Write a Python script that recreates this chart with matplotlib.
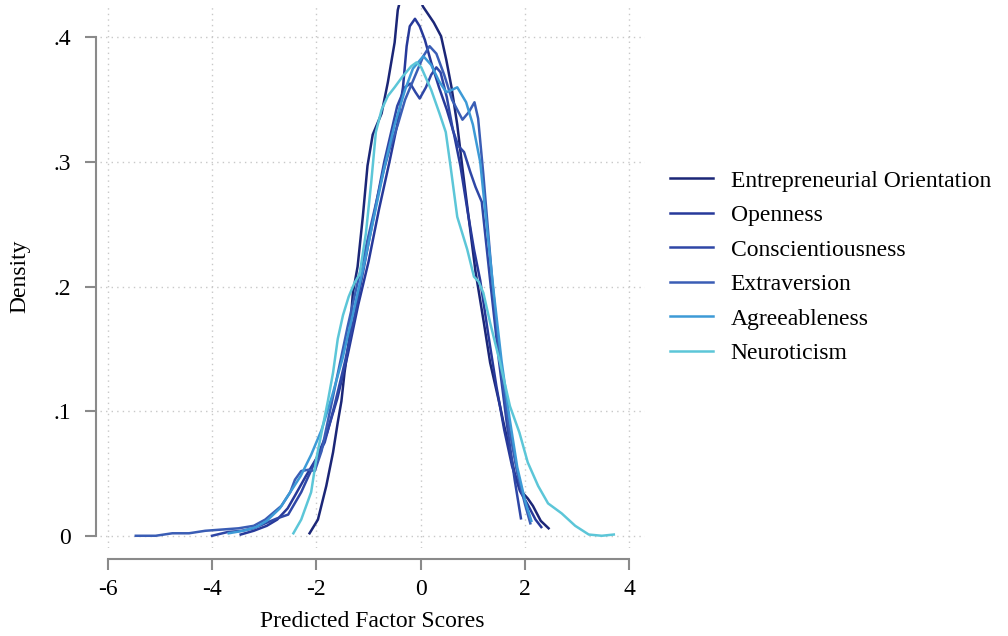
import matplotlib.pyplot as plt

# kernel density curves: (score, density)
eo_x = [-2.13, -1.97, -1.81, -1.68, -1.59, -1.52, -1.46, -1.37, -1.30, -1.21, -1.11, -1.02, -0.92, -0.75,
        -0.63, -0.50, -0.44, -0.30, -0.15, 0.04, 0.25, 0.39, 0.49, 0.59, 0.70, 0.80, 0.92, 1.05, 1.21,
        1.33, 1.52, 1.59, 1.70, 1.80, 1.92, 2.05, 2.15, 2.30, 2.45]
eo_y = [0.002, 0.013, 0.040, 0.067, 0.091, 0.108, 0.131, 0.158, 0.195, 0.216, 0.256, 0.297, 0.322, 0.339,
        0.364, 0.396, 0.422, 0.445, 0.450, 0.425, 0.412, 0.401, 0.382, 0.360, 0.330, 0.295, 0.255, 0.212,
        0.171, 0.139, 0.104, 0.090, 0.070, 0.050, 0.036, 0.030, 0.024, 0.012, 0.006]

open_x = [-3.45, -3.2, -2.95, -2.75, -2.55, -2.4, -2.2, -2.0, -1.8, -1.6, -1.4, -1.2, -1.0, -0.8, -0.6,
          -0.45, -0.34, -0.27, -0.21, -0.11, -0.02, 0.08, 0.20, 0.35, 0.50, 0.63, 0.76, 0.90, 1.02, 1.14,
          1.30, 1.45, 1.60, 1.75, 1.90, 2.05, 2.20, 2.31]
open_y = [0.001, 0.004, 0.008, 0.013, 0.022, 0.033, 0.048, 0.062, 0.082, 0.110, 0.145, 0.185, 0.220, 0.262,
          0.300, 0.330, 0.360, 0.393, 0.409, 0.415, 0.409, 0.398, 0.380, 0.360, 0.342, 0.324, 0.297, 0.260,
          0.230, 0.205, 0.160, 0.120, 0.085, 0.056, 0.036, 0.025, 0.013, 0.007]

consc_x = [-4.0, -3.7, -3.43, -3.2, -2.98, -2.75, -2.54, -2.29, -2.03, -1.84, -1.65, -1.45, -1.25, -1.0,
           -0.7, -0.45, -0.30, -0.20, -0.10, -0.02, 0.10, 0.20, 0.30, 0.38, 0.50, 0.62, 0.72, 0.83, 0.95,
           1.05, 1.17, 1.33, 1.50, 1.65, 1.80, 1.92]
consc_y = [0.0, 0.003, 0.004, 0.006, 0.010, 0.014, 0.017, 0.035, 0.059, 0.075, 0.105, 0.140, 0.180, 0.235,
           0.300, 0.345, 0.360, 0.363, 0.356, 0.351, 0.360, 0.370, 0.376, 0.372, 0.352, 0.325, 0.313, 0.308,
           0.292, 0.280, 0.268, 0.205, 0.140, 0.090, 0.045, 0.014]

extra_x = [-5.46, -5.08, -4.76, -4.44, -4.13, -3.81, -3.49, -3.20, -2.98, -2.67, -2.50, -2.41, -2.29,
           -2.15, -2.03, -1.90, -1.75, -1.60, -1.40, -1.20, -0.95, -0.73, -0.60, -0.44, -0.30, -0.10,
           0.05, 0.17, 0.30, 0.45, 0.60, 0.80, 0.92, 1.03, 1.10, 1.20, 1.30, 1.37, 1.45, 1.55, 1.70,
           1.85, 2.00, 2.10]
extra_y = [0.0, 0.0, 0.002, 0.002, 0.004, 0.005, 0.006, 0.008, 0.013, 0.024, 0.035, 0.045, 0.052,
           0.053, 0.052, 0.068, 0.098, 0.128, 0.168, 0.205, 0.250, 0.290, 0.310, 0.330, 0.350, 0.370,
           0.385, 0.393, 0.387, 0.370, 0.350, 0.334, 0.340, 0.348, 0.335, 0.290, 0.240, 0.205, 0.170,
           0.130, 0.085, 0.050, 0.025, 0.010]

agree_x = [-3.68, -3.4, -3.15, -2.95, -2.7, -2.5, -2.3, -2.1, -1.9, -1.7, -1.5, -1.3, -1.1, -0.9, -0.7,
           -0.5, -0.3, -0.15, 0.05, 0.20, 0.35, 0.49, 0.60, 0.70, 0.87, 1.00, 1.14, 1.25, 1.40, 1.55,
           1.70, 1.85, 2.00, 2.12]
agree_y = [0.002, 0.004, 0.007, 0.012, 0.022, 0.035, 0.048, 0.065, 0.085, 0.112, 0.142, 0.178, 0.215,
           0.255, 0.295, 0.330, 0.358, 0.375, 0.385, 0.378, 0.365, 0.356, 0.358, 0.360, 0.348, 0.330,
           0.300, 0.255, 0.195, 0.140, 0.095, 0.055, 0.028, 0.012]

neuro_x = [-2.44, -2.29, -2.10, -2.00, -1.90, -1.78, -1.68, -1.59, -1.49, -1.38, -1.27, -1.17, -1.05,
           -0.95, -0.86, -0.75, -0.63, -0.50, -0.36, -0.18, -0.08, 0.01, 0.20, 0.36, 0.48, 0.57, 0.70,
           0.89, 1.02, 1.11, 1.20, 1.33, 1.52, 1.71, 1.89, 2.05, 2.25, 2.44, 2.70, 2.96, 3.22, 3.47, 3.70]
neuro_y = [0.002, 0.013, 0.035, 0.062, 0.083, 0.108, 0.131, 0.158, 0.177, 0.192, 0.203, 0.210, 0.243,
           0.283, 0.324, 0.342, 0.353, 0.360, 0.368, 0.377, 0.380, 0.376, 0.358, 0.339, 0.324, 0.297, 0.256,
           0.230, 0.208, 0.204, 0.195, 0.171, 0.139, 0.104, 0.083, 0.059, 0.040, 0.026, 0.018, 0.008,
           0.001, 0.0, 0.001]

names = ["Entrepreneurial Orientation", "Openness", "Conscientiousness",
         "Extraversion", "Agreeableness", "Neuroticism"]
xs = [eo_x, open_x, consc_x, extra_x, agree_x, neuro_x]
ys = [eo_y, open_y, consc_y, extra_y, agree_y, neuro_y]
colors = ["#1b2677", "#27399a", "#2f47a6", "#3a5db5", "#3d9ad6", "#5cc6d8"]

plt.rcParams['font.family'] = ['Liberation Serif', 'DejaVu Serif']

fig = plt.figure(figsize=(10.08, 6.36), dpi=100)
ax = fig.add_axes([0.099, 0.138, 0.541, 0.854])

for x, y, c, n in zip(xs, ys, colors, names):
    ax.plot(x, y, color=c, lw=1.8, label=n)

ax.set_xlim(-6.15, 4.3)
ax.set_ylim(-0.01, 0.426)
ax.set_xticks([-6, -4, -2, 0, 2, 4])
ax.set_xticklabels(["-6", "-4", "-2", "0", "2", "4"])
ax.set_yticks([0, 0.1, 0.2, 0.3, 0.4])
ax.set_yticklabels(["0", ".1", ".2", ".3", ".4"])
ax.grid(True, color="#c8c8c8", linestyle=(0, (1, 3)), lw=1)

for s in ["top", "right"]:
    ax.spines[s].set_visible(False)
ax.spines["left"].set_position(("outward", 3))
ax.spines["bottom"].set_position(("outward", 8))
ax.spines["left"].set_bounds(0, 0.4)
ax.spines["bottom"].set_bounds(-6, 4)
for s in ["left", "bottom"]:
    ax.spines[s].set_color("#8a8a8a")
    ax.spines[s].set_linewidth(1.5)
ax.tick_params(colors="#8a8a8a", labelcolor="black", width=1.5, length=8, pad=6, labelsize=17)
ax.tick_params(axis="y", pad=10)

ax.set_xlabel("Predicted Factor Scores", fontsize=17, labelpad=8)
ax.set_ylabel("Density", fontsize=17, labelpad=16)

fig.legend(loc="center left", bbox_to_anchor=(0.644, 0.58), frameon=False,
           fontsize=17, handlelength=1.8, labelspacing=0.55, handletextpad=0.75)

fig.savefig("out.png", dpi=100)
